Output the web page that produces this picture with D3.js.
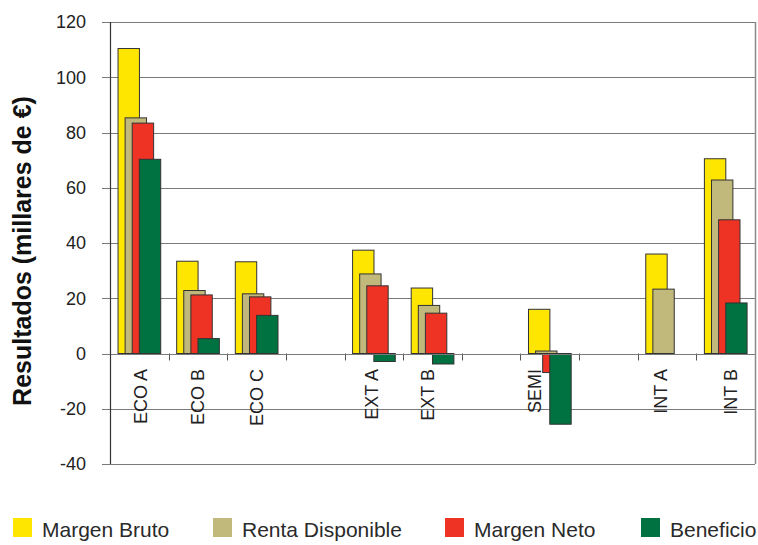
<!DOCTYPE html>
<html>
<head>
<meta charset="utf-8">
<script src="https://cdn.jsdelivr.net/npm/d3@7"></script>
<style>
  html, body { margin: 0; padding: 0; background: #fff; }
  svg { display: block; font-family: "Liberation Sans", Arial, Helvetica, sans-serif; }
</style>
</head>
<body>
<svg id="chart" width="758" height="545"></svg>
<script>
// Farm types (empty strings are spacer slots between groups)
const categories = ["ECO A", "ECO B", "ECO C", "", "EXT A", "EXT B", "", "SEMI", "", "INT A", "INT B"];

// Results in thousands of euros
const margenBruto     = [110.4, 33.4, 33.2, null, 37.4, 23.7, null, 16.0, null, 36.0, 70.5];
const rentaDisponible = [ 85.3, 22.8, 21.6, null, 28.8, 17.4, null,  0.9, null, 23.3, 62.8];
const margenNeto      = [ 83.4, 21.2, 20.5, null, 24.5, 14.6, null, -6.9, null, null, 48.4];
const beneficio       = [ 70.3,  5.4, 13.8, null, -2.9, -3.8, null, -25.6, null, null, 18.3];

const seriesNames = ["Margen Bruto", "Renta Disponible", "Margen Neto", "Beneficio"];
const yTicks = [-40, -20, 0, 20, 40, 60, 80, 100, 120];

const seriesValues = [margenBruto, rentaDisponible, margenNeto, beneficio];
const colors = ["#FFE600", "#C1B87B", "#EE3325", "#007140"];

// small horizontal adjustments of the rotated category labels
const labelNudge = [2, 0, 0, 0, -2, -5, 0, -15, 0, -6, 5];

const svg = d3.select("#chart");
const plot = { left: 110, right: 755, top: 22, bottom: 464 };

const keys = categories.map((c, i) => c || ("gap" + i));
const x = d3.scaleBand().domain(keys).range([plot.left, plot.right]).padding(0);
const y = d3.scaleLinear().domain([-40, 120]).range([plot.bottom, plot.top]);

const bw = x.bandwidth();
const barW = bw * 0.365;
// overlapping bars: each series shifted right a little from the previous one
const xs = d3.scaleLinear().domain([0, 3]).range([bw * 0.137, bw * 0.5]);

// horizontal gridlines (also provide the y-axis tick marks left of the axis)
svg.append("g")
  .selectAll("line")
  .data(yTicks)
  .join("line")
  .attr("x1", plot.left - 8)
  .attr("x2", plot.right)
  .attr("y1", d => Math.round(y(d)) + 0.5)
  .attr("y2", d => Math.round(y(d)) + 0.5)
  .attr("stroke", "#7a7a7a")
  .attr("stroke-width", 1.2);

// right border
svg.append("line")
  .attr("x1", plot.right + 0.5).attr("x2", plot.right + 0.5)
  .attr("y1", y(120)).attr("y2", y(-40))
  .attr("stroke", "#8a8a8a").attr("stroke-width", 1.5);

// category ticks on the zero line
svg.append("g")
  .selectAll("line")
  .data(keys.slice(1))
  .join("line")
  .attr("x1", d => Math.round(x(d)) + 0.5)
  .attr("x2", d => Math.round(x(d)) + 0.5)
  .attr("y1", y(0))
  .attr("y2", y(0) + 7)
  .attr("stroke", "#555")
  .attr("stroke-width", 1);

// bars
const barData = [];
seriesValues.forEach((vals, s) => {
  vals.forEach((v, i) => {
    if (v !== null) barData.push({ s, i, v });
  });
});

svg.append("g")
  .selectAll("rect")
  .data(barData)
  .join("rect")
  .attr("x", d => x(keys[d.i]) + xs(d.s))
  .attr("width", barW)
  .attr("y", d => y(Math.max(0, d.v)))
  .attr("height", d => Math.abs(y(d.v) - y(0)))
  .attr("fill", d => colors[d.s])
  .attr("stroke", "#333")
  .attr("stroke-width", 1);

// zero line drawn over the bar bases
svg.append("line")
  .attr("x1", plot.left).attr("x2", plot.right)
  .attr("y1", Math.round(y(0)) + 0.5).attr("y2", Math.round(y(0)) + 0.5)
  .attr("stroke", "#7a7a7a").attr("stroke-width", 1.2);

// y axis line
svg.append("line")
  .attr("x1", plot.left + 0.5).attr("x2", plot.left + 0.5)
  .attr("y1", y(120)).attr("y2", y(-40))
  .attr("stroke", "#333").attr("stroke-width", 1.2);

// y tick labels
svg.append("g")
  .selectAll("text")
  .data(yTicks)
  .join("text")
  .attr("x", 86)
  .attr("y", d => y(d))
  .attr("dy", "0.35em")
  .attr("text-anchor", "end")
  .attr("font-size", 18)
  .attr("fill", "#222")
  .text(d => d);

// y axis title
svg.append("text")
  .attr("transform", "translate(22," + ((90 + 412) / 2) + ") rotate(-90)")
  .attr("text-anchor", "middle")
  .attr("dominant-baseline", "central")
  .attr("font-size", 25)
  .attr("font-weight", "bold")
  .attr("fill", "#111")
  .text("Resultados (millares de €)");

// rotated category labels
svg.append("g")
  .selectAll("text")
  .data(categories.map((c, i) => ({ c, i })).filter(d => d.c))
  .join("text")
  .attr("transform", d => "translate(" + (x(keys[d.i]) + bw / 2 + labelNudge[d.i]) + ",369) rotate(-90)")
  .attr("text-anchor", "end")
  .attr("dominant-baseline", "central")
  .attr("font-size", 18)
  .attr("fill", "#222")
  .text(d => d.c);

// legend
const legendX = [13, 213, 445, 641];
const legend = svg.append("g")
  .selectAll("g")
  .data(seriesNames)
  .join("g")
  .attr("transform", (d, i) => "translate(" + legendX[i] + ",518)");
legend.append("rect")
  .attr("width", 19).attr("height", 19)
  .attr("fill", (d, i) => colors[i]);
legend.append("text")
  .attr("x", 29)
  .attr("y", 19)
  .attr("font-size", 21)
  .attr("fill", "#2a2a2a")
  .text(d => d);
</script>
</body>
</html>
